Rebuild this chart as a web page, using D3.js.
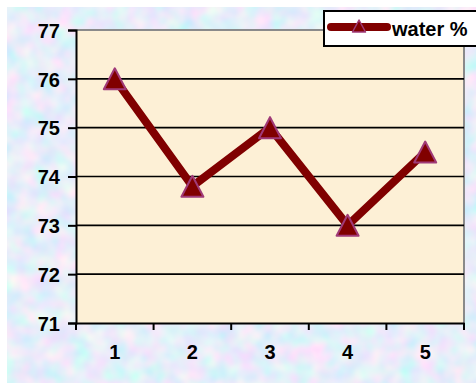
<!DOCTYPE html>
<html>
<head>
<meta charset="utf-8">
<script src="https://cdn.jsdelivr.net/npm/d3@7"></script>
<style>
  html, body { margin: 0; padding: 0; background: #fff; }
  svg { display: block; }
  .lbl { font-family: "Liberation Sans", Arial, sans-serif; font-weight: bold; fill: #000; }
</style>
</head>
<body>
<svg id="chart" width="476" height="391"></svg>
<script>
// Chart data
const categories = ["1", "2", "3", "4", "5"];
const waterValues = [76.0, 73.8, 75.0, 73.0, 74.5];
const yTicks = [71, 72, 73, 74, 75, 76, 77];
const seriesName = "water %";

const svg = d3.select("#chart");
const W = 476;
const plot = { left: 76, top: 30, right: 464, bottom: 323 };

const defs = svg.append("defs");
// Soft mottled blue/lavender paper texture for the chart background
const tex = defs.append("filter").attr("id", "paper")
  .attr("x", 0).attr("y", 0).attr("width", 1).attr("height", 1);
tex.append("feTurbulence").attr("type", "fractalNoise")
  .attr("baseFrequency", 0.055).attr("numOctaves", 2).attr("seed", 11).attr("result", "noise");
tex.append("feColorMatrix").attr("in", "noise").attr("type", "matrix")
  .attr("values", [
    0.45, -0.45, 0, 0, 0.80,
    0, 0.25, -0.25, 0, 0.85,
    0, 0, 0.12, 0, 0.89,
    0, 0, 0, 0, 1
  ].join(" "));

svg.append("rect").attr("x", 7).attr("y", 7).attr("width", W - 7).attr("height", 376)
  .attr("fill", "#cbd8f3");
svg.append("rect").attr("x", 7).attr("y", 7).attr("width", W - 7).attr("height", 376)
  .attr("filter", "url(#paper)");

const x = d3.scaleBand().domain(categories).range([plot.left, plot.right]);
const y = d3.scaleLinear().domain([71, 77]).range([plot.bottom, plot.top]);

// Plot area
svg.append("rect")
  .attr("x", plot.left).attr("y", plot.top)
  .attr("width", plot.right - plot.left).attr("height", plot.bottom - plot.top)
  .attr("fill", "#fdf0d6");
svg.append("path")
  .attr("d", `M${plot.left},${plot.top}H${plot.right}V${plot.bottom}`)
  .attr("fill", "none").attr("stroke", "#8a8a8a").attr("stroke-width", 2);

// Horizontal gridlines
svg.append("g").selectAll("line")
  .data(yTicks.filter(v => v > 71 && v < 77))
  .join("line")
  .attr("x1", plot.left).attr("x2", plot.right)
  .attr("y1", d => y(d)).attr("y2", d => y(d))
  .attr("stroke", "#000").attr("stroke-width", 1.6);

const boldText = sel => sel
  .style("font-family", '"Liberation Sans", Arial, sans-serif')
  .style("font-weight", "700")
  .style("font-size", "20px")
  .style("fill", "#000");

// Y axis
const yAxis = svg.append("g")
  .attr("transform", `translate(${plot.left},0)`)
  .call(d3.axisLeft(y).tickValues(yTicks).tickFormat(d3.format("d")).tickSizeOuter(0).tickSize(8).tickPadding(8));
yAxis.attr("font-family", null).attr("font-size", null);
yAxis.select(".domain").attr("stroke", "#000").attr("stroke-width", 2);
yAxis.selectAll(".tick line").attr("stroke", "#000").attr("stroke-width", 2);
yAxis.selectAll(".tick text").attr("dy", "0.36em").call(boldText);

// X axis with ticks between categories
const xAxis = svg.append("g")
  .attr("transform", `translate(0,${plot.bottom})`)
  .call(d3.axisBottom(x).tickSize(0).tickPadding(22));
xAxis.attr("font-family", null).attr("font-size", null);
xAxis.select(".domain").attr("stroke", "#000").attr("stroke-width", 2);
xAxis.selectAll(".tick text").call(boldText);
const bounds = categories.map(c => x(c)).concat([x(categories[categories.length - 1]) + x.bandwidth()]);
xAxis.append("g").selectAll("line").data(bounds).join("line")
  .attr("x1", d => d).attr("x2", d => d).attr("y1", 0).attr("y2", 7)
  .attr("stroke", "#000").attr("stroke-width", 2);

// Series line
const cx = d => x(d) + x.bandwidth() / 2;
const pts = categories.map((c, i) => [cx(c), y(waterValues[i])]);
svg.append("path")
  .attr("d", d3.line()(pts))
  .attr("fill", "none").attr("stroke", "#800000").attr("stroke-width", 8)
  .attr("stroke-linejoin", "miter");

// Triangle markers, centred on each value
const triPath = (w, h) => `M0,${-h / 2}L${w / 2},${h / 2}L${-w / 2},${h / 2}Z`;
svg.append("g").selectAll("path").data(pts).join("path")
  .attr("transform", d => `translate(${d[0]},${d[1]})`)
  .attr("d", triPath(22, 21))
  .attr("fill", "#800000").attr("stroke", "#a03a78").attr("stroke-width", 2)
  .attr("stroke-linejoin", "round");

// Legend
const lg = svg.append("g");
lg.append("rect").attr("x", 324).attr("y", 11).attr("width", 170).attr("height", 35)
  .attr("fill", "#fff").attr("stroke", "#000").attr("stroke-width", 2);
lg.append("line").attr("x1", 331).attr("x2", 387).attr("y1", 27).attr("y2", 27)
  .attr("stroke", "#800000").attr("stroke-width", 8).attr("stroke-linecap", "round");
lg.append("path").attr("transform", "translate(359,26)")
  .attr("d", triPath(13, 12))
  .attr("fill", "#800000").attr("stroke", "#a03a78").attr("stroke-width", 1.5)
  .attr("stroke-linejoin", "round");
lg.append("text").attr("x", 392).attr("y", 36).text(seriesName).call(boldText);
</script>
</body>
</html>
